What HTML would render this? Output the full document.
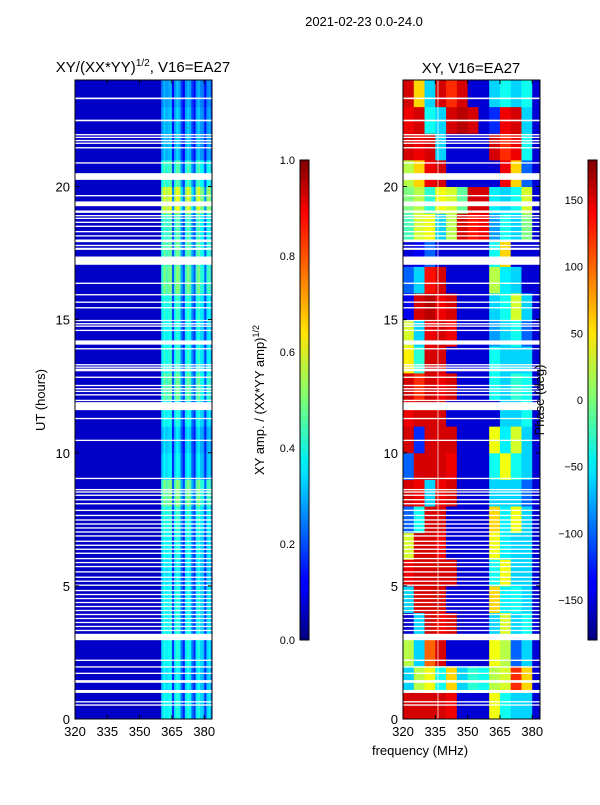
<!DOCTYPE html>
<html><head><meta charset="utf-8">
<style>
body{margin:0;background:#fff;font-family:"Liberation Sans",sans-serif;}
svg text{font-family:"Liberation Sans",sans-serif;fill:#000;}
</style></head>
<body>
<svg id="fig" width="600" height="800" viewBox="0 0 600 800" xmlns="http://www.w3.org/2000/svg">
<defs>
<linearGradient id="jet" x1="0" y1="1" x2="0" y2="0">
<stop offset="0" stop-color="#00007f"/><stop offset="0.11" stop-color="#0000ff"/>
<stop offset="0.125" stop-color="#0000ff"/><stop offset="0.34" stop-color="#00dcff"/>
<stop offset="0.375" stop-color="#00f0f0"/><stop offset="0.5" stop-color="#7cff79"/>
<stop offset="0.64" stop-color="#ffe500"/><stop offset="0.75" stop-color="#ff8000"/>
<stop offset="0.89" stop-color="#ff0000"/><stop offset="1" stop-color="#7f0000"/>
</linearGradient>
</defs>
<text x="364" y="26" font-size="13" text-anchor="middle">2021-02-23 0.0-24.0</text>
<text x="143" y="72" font-size="15" text-anchor="middle">XY/(XX*YY)<tspan font-size="10" dy="-6">1/2</tspan><tspan dy="6">, V16=EA27</tspan></text>
<text x="471" y="73" font-size="15" text-anchor="middle">XY, V16=EA27</text>
<g id="left"></g>
<g id="right"></g>
<g id="axes"></g>
<text x="0" y="0" font-size="13" text-anchor="middle" transform="translate(45,400) rotate(-90)">UT (hours)</text>
<text x="420" y="755" font-size="13" text-anchor="middle">frequency (MHz)</text>
<rect x="300" y="160" width="9" height="480" fill="url(#jet)" stroke="#000" stroke-width="1"/>
<rect x="588" y="160" width="9" height="480" fill="url(#jet)" stroke="#000" stroke-width="1"/>
<text x="0" y="0" font-size="13" text-anchor="middle" transform="translate(264,400) rotate(-90)">XY amp. / (XX*YY amp)<tspan font-size="9" dy="-5">1/2</tspan></text>
<text x="0" y="0" font-size="13" text-anchor="middle" transform="translate(544,400) rotate(-90)">Phase (deg)</text>
</svg>
<script>
const NS="http://www.w3.org/2000/svg";
// ---- data ----
const xTicks=[320,335,350,365,380];
const yTicks=[0,5,10,15,20];
const ampTicks=[0.0,0.2,0.4,0.6,0.8,1.0];
const phaseTicks=[-150,-100,-50,0,50,100,150];
const ampBase=0.07;
const bandStart=360;
const bandProfile=[0.42,0.5,0.45,0.48,0.5,0.22,0.45,0.52,0.48,0.3,0.2,0.44,0.5,0.46,0.3,0.22,0.45,0.5,0.42,0.4,0.22,0.42,0.45,0.3];
const hourAmp=[0.8,0.75,0.8,0.8,0.8,0.75,0.8,0.85,1.0,0.75,0.7,0.8,0.95,0.85,0.8,0.85,1.0,0.95,0.9,1.2,0.9,0.65,0.65,0.6];
const phaseBins=[320,325,330,335,340,345,350,355,360,365,370,375,380,383.6];
const phaseRows=[
[150,150,150,150,140,-150,-150,-150,40,-40,-60,-60,-150],
[-60,20,40,-40,60,-60,-30,-40,20,30,120,60,-150],
[20,-60,100,150,-150,-150,-150,-150,40,20,-100,-60,-150],
[-150,-60,150,140,150,-150,-150,-150,-60,30,-60,-40,-150],
[-60,150,150,150,-150,-150,-150,-150,60,-50,-40,-60,-150],
[140,150,150,150,150,-150,-150,-150,-40,40,-60,-60,-150],
[30,150,150,140,-150,-150,-150,-150,40,-50,-60,-60,-150],
[-100,-40,150,150,-150,-150,-150,-150,60,-50,40,-60,-150],
[150,140,-60,140,150,-150,-150,-150,-60,-60,-60,-100,-150],
[-100,150,150,150,140,-150,-150,-150,-40,40,-40,-60,-150],
[150,-120,150,150,150,-150,-150,-150,40,-50,30,-60,-150],
[140,150,150,150,-150,-150,-150,-150,-150,-60,-60,-40,-150],
[150,120,150,140,150,-150,-150,-150,-40,-60,-30,-40,-150],
[50,-30,150,150,-150,-150,-150,-150,-40,-60,-60,-60,-150],
[30,-60,140,150,140,-150,-150,-150,-80,-60,-40,-100,-150],
[-140,150,160,140,150,-150,-150,-150,-60,-40,30,-60,-150],
[-100,-60,130,150,-150,-150,-150,-150,20,-50,-60,-150,-150],
[-150,-140,-100,-150,-150,-150,-150,-150,-40,60,-150,-150,-150],
[-20,30,40,-60,20,150,130,140,-80,-40,-60,0,-150],
[0,20,-30,40,30,-10,150,150,-50,-60,-40,30,-150],
[20,60,140,150,-150,-150,-150,-150,-150,140,60,-100,-150],
[150,140,150,-60,-150,-150,-150,-150,150,120,140,-40,-150],
[140,150,-40,-60,150,160,150,-150,-120,140,150,-60,-150],
[150,60,-60,150,120,150,-150,-150,-60,-40,-60,-40,-150]];
const gaps=[[23.28,23.34],[22.45,22.51],[21.92,21.97],[21.82,21.87],[21.70,21.75],[21.60,21.65],[21.43,21.48],[20.86,20.91],
[20.25,20.5],[19.63,19.68],[19.26,19.44],[19.01,19.1],[18.88,18.93],[18.78,18.83],[18.63,18.68],[18.48,18.53],[18.28,18.33],
[18.12,18.17],[17.91,18.01],[17.76,17.81],[17.62,17.7],[17.06,17.37],[16.34,16.39],[15.91,15.96],[15.63,15.68],[15.42,15.47],
[14.94,14.99],[14.82,14.87],[14.73,14.78],[14.57,14.62],[14.06,14.22],[13.88,13.93],[13.28,13.33],[13.19,13.24],[13.06,13.16],
[12.81,12.86],[12.5,12.55],[12.38,12.43],[12.28,12.33],[12.15,12.2],[11.94,11.99],[11.6,11.9],[11.26,11.31],[10.44,10.49],
[9.01,9.06],[8.59,8.64],[8.5,8.55],[8.38,8.43],[8.21,8.26],[8.06,8.11],[7.81,7.86],[7.62,7.67],[7.45,7.5],[7.3,7.35],[7.15,7.2],
[7.0,7.05],[6.85,6.9],[6.65,6.7],[6.5,6.55],[6.35,6.4],[6.2,6.25],[6.0,6.05],[5.85,5.9],[5.7,5.75],[5.5,5.55],[5.3,5.35],
[5.15,5.2],[5.0,5.05],[4.8,4.85],[4.65,4.7],[4.5,4.55],[4.35,4.4],[4.2,4.25],[4.05,4.1],[3.9,3.95],[3.75,3.8],[3.6,3.65],
[3.45,3.5],[3.3,3.35],[2.96,3.2],[2.18,2.23],[1.93,1.98],[1.69,1.74],[1.36,1.46],[0.98,1.09],[0.62,0.67],[0.5,0.55]];
// ---- axes ----
const PY0=80,PY1=719,FMIN=320,FMAX=383.6,HMAX=24;
const panels=[{x0:75,x1:212},{x0:403,x1:540}];
function xs(p,f){return p.x0+(f-FMIN)/(FMAX-FMIN)*(p.x1-p.x0);}
function ys(h){return PY1-h/HMAX*(PY1-PY0);}
function jet(v){v=Math.max(0,Math.min(1,v));
 const r=Math.min(4*v-1.5,-4*v+4.5),g=Math.min(4*v-0.5,-4*v+3.5),b=Math.min(4*v+0.5,-4*v+2.5);
 const c=x=>Math.round(255*Math.max(0,Math.min(1,x)));return `rgb(${c(r)},${c(g)},${c(b)})`;}
function mk(tag,at,parent){const e=document.createElementNS(NS,tag);for(const k in at)e.setAttribute(k,at[k]);parent.appendChild(e);return e;}
const L=document.getElementById('left'),R=document.getElementById('right'),A=document.getElementById('axes');
for(let h=0;h<HMAX;h++){
 const c0=mk('rect',{x:xs(panels[0],FMIN),y:ys(h+1),width:xs(panels[0],bandStart)-xs(panels[0],FMIN)+0.5,height:ys(h)-ys(h+1)+0.5,fill:jet(ampBase)},L);
 
 
 for(let i=0;i<bandProfile.length;i++){
  const f0=bandStart+i,f1=Math.min(bandStart+i+1,FMAX);
  const c=mk('rect',{x:xs(panels[0],f0),y:ys(h+1),width:xs(panels[0],f1)-xs(panels[0],f0)+0.5,height:ys(h)-ys(h+1)+0.5,fill:jet(bandProfile[i]*hourAmp[h])},L);
  
  
 }
}
for(let h=0;h<phaseRows.length;h++){
 for(let i=0;i<phaseRows[h].length;i++){
  const f0=phaseBins[i],f1=phaseBins[i+1];
  const c=mk('rect',{x:xs(panels[1],f0),y:ys(h+1),width:xs(panels[1],f1)-xs(panels[1],f0)+0.5,height:ys(h)-ys(h+1)+0.5,fill:jet((phaseRows[h][i]+180)/360)},R);
  
  
 }
}
const vl=mk('rect',{x:xs(panels[1],336),y:PY0,width:1,height:PY1-PY0,fill:'#ffffff',opacity:0.7},R);


for(const p of panels){for(const g of gaps){
 const gr=mk('rect',{x:p.x0,y:ys(g[1]),width:p.x1-p.x0,height:Math.max(1.3,ys(g[0])-ys(g[1])),fill:'#fff'},A);
 
 
}}
for(const p of panels){
 const fr=mk('rect',{x:p.x0,y:PY0,width:p.x1-p.x0,height:PY1-PY0,fill:'none',stroke:'#000','stroke-width':1},A);
 
 
 for(const t of xTicks){const x=xs(p,t);
  mk('line',{x1:x,x2:x,y1:PY1,y2:PY1-4,stroke:'#000'},A);mk('line',{x1:x,x2:x,y1:PY0,y2:PY0+4,stroke:'#000'},A);
  const tx=mk('text',{x:x,y:PY1+17,'font-size':13,'text-anchor':'middle'},A);tx.textContent=t;
  
  
 }
 for(const t of yTicks){const y=ys(t);
  mk('line',{x1:p.x0,x2:p.x0+4,y1:y,y2:y,stroke:'#000'},A);mk('line',{x1:p.x1,x2:p.x1-4,y1:y,y2:y,stroke:'#000'},A);
  const tx=mk('text',{x:p.x0-5,y:y+5,'font-size':13,'text-anchor':'end'},A);tx.textContent=t;
  
  
 }
}
for(const t of ampTicks){const y=640-t*480;
 mk('line',{x1:300,x2:309,y1:y,y2:y,stroke:'#000','stroke-width':0.8},A);
 const tx=mk('text',{x:295,y:y+4,'font-size':11,'text-anchor':'end'},A);tx.textContent=t.toFixed(1);
 
 
}
for(const t of phaseTicks){const y=640-(t+180)/360*480;
 mk('line',{x1:588,x2:597,y1:y,y2:y,stroke:'#000','stroke-width':0.8},A);
 const tx=mk('text',{x:583,y:y+4,'font-size':11,'text-anchor':'end'},A);tx.textContent=t<0?'\u2212'+(-t):t;
 
 
}
</script>
</body></html>
